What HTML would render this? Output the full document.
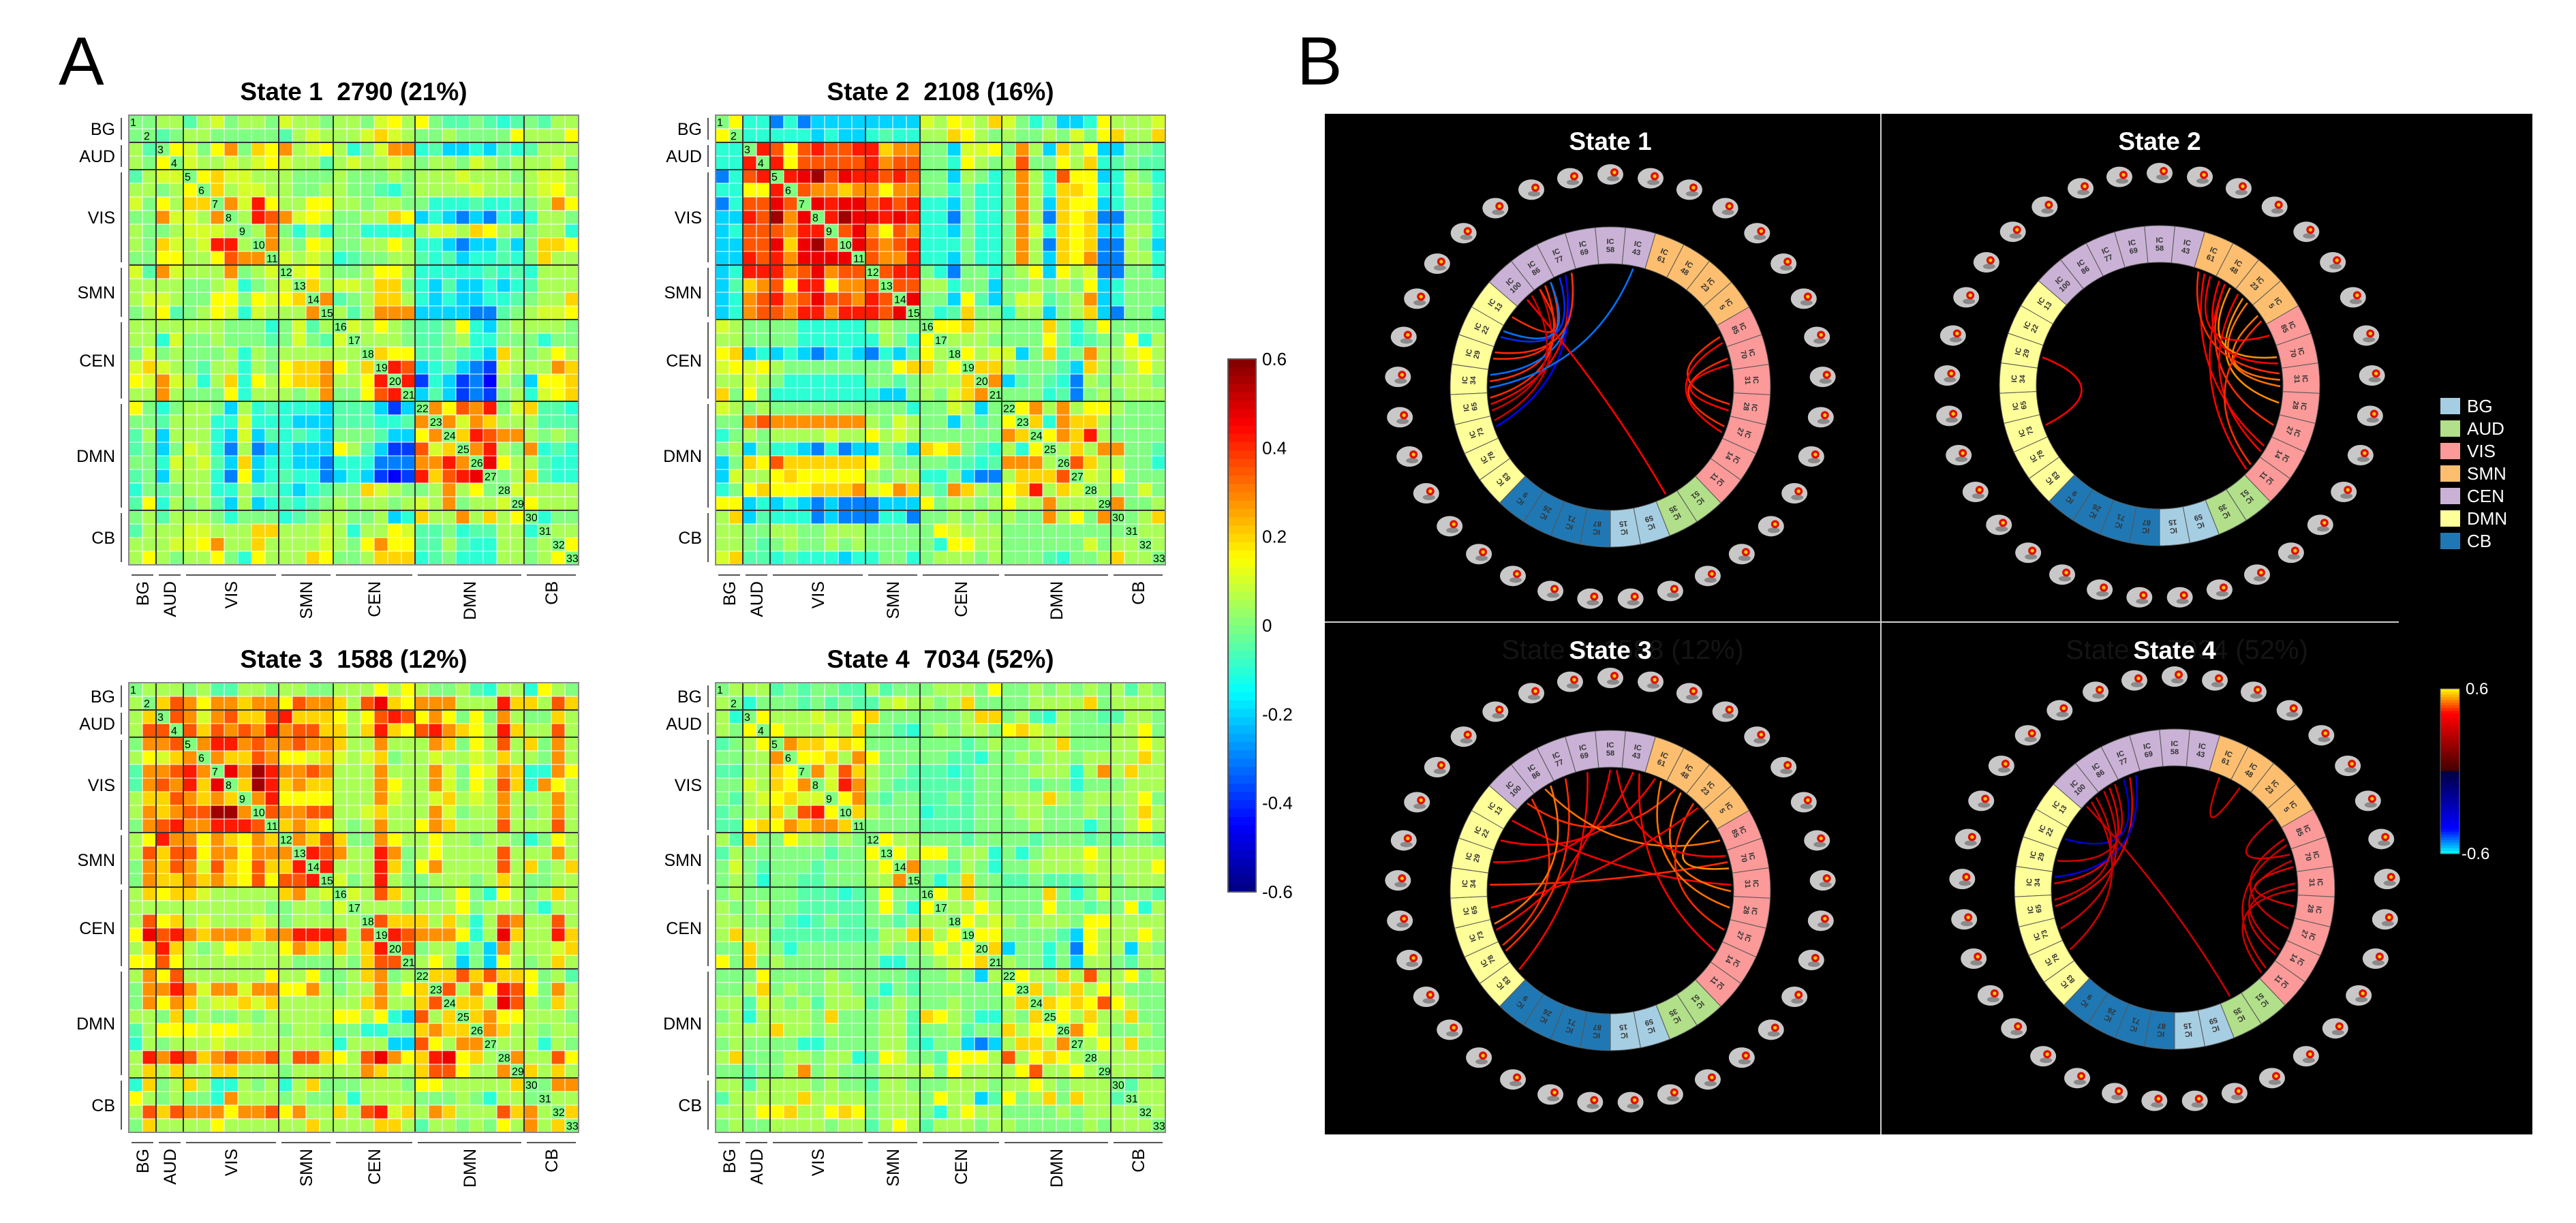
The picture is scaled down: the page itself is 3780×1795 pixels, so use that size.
<!DOCTYPE html>
<html><head><meta charset="utf-8">
<style>
html,body{margin:0;padding:0;background:#fff;}
svg{display:block;font-family:"Liberation Sans",Arial,sans-serif;}
.pre{white-space:pre;}
</style></head>
<body>
<svg id="fig" xmlns="http://www.w3.org/2000/svg" width="3780" height="1795" viewBox="0 0 3780 1795">
<rect x="0" y="0" width="3780" height="1795" fill="#fff"/>
<text x="86" y="124" font-size="100" fill="#000">A</text>
<text x="1903" y="124" font-size="100" fill="#000">B</text>
<rect x="1944" y="167" width="1772" height="1498" fill="#000"/>
<line x1="2760" y1="167" x2="2760" y2="1665" stroke="#cfcfcf" stroke-width="2"/>
<line x1="1944" y1="913" x2="3520" y2="913" stroke="#cfcfcf" stroke-width="2"/>
<g id="layer"></g>
</svg>
<script>
// ---------- DATA ----------
const groupNames = ["BG","AUD","VIS","SMN","CEN","DMN","CB"];
const groupSizes = [2,2,7,4,6,8,4];
const stateTitles = ["State 1  2790 (21%)","State 2  2108 (16%)","State 3  1588 (12%)","State 4  7034 (52%)"];
const chordTitles = ["State 1","State 2","State 3","State 4"];
const levelCodes = {A:-0.45,B:-0.38,C:-0.3,D:-0.2,E:-0.1,F:-0.05,G:0,H:0.05,I:0.1,J:0.15,K:0.2,L:0.28,M:0.35,N:0.42,O:0.47,P:0.56};
const colorbarTicks = [0.6,0.4,0.2,0,-0.2,-0.4,-0.6];
const colorbarTickLabels = ["0.6","0.4","0.2","0","-0.2","-0.4","-0.6"];
// upper triangle rows (row i: columns i+1..32)
const state1Upper = ["GHHFHIGHHGIHHGHHGIJHJGFFGFEFGFHH","FGHHGGGGGFHIHHHIKIHGGHGGGGJHHHJ","JIGJLGKJLHIJHEGILLEFDDEDFEFHHH","IHHIHIJIHHFHIHHIHGHHGIHGHHHIG","JKIIHHHGGGHGGGHGHHHIHHHGHIIH","KHIIHHGGHHGGFEGHHHHIHHHHIJH","LINJHHJJHHGHHGGEEEFEEFGHLJ","HNMLIJIGGHHKJDEDCDCEDEHHG","HLGEGEGGEEEEHIIHKJHHGHHE","LHGJIGGHHJHEEDCDDFDGKKJ","IHIHEFGGHHFEFDEEFEGKHH","IJHGGHJJHEEEEEFEFEHHH","KHIIHKKGEDFDDEDEFHHH","LFGHKKHEDEDDEEFGHHK","HFHLLLDDDDCCFGHIIJ","IHJHGFFGJEDGHHHHG","HHHGFFGHEEGGGEGG","KJJFFGFEDKHGHJH","NMDEFDCBIHHHLK","NBEDBCAHGDJJK","DFDBCBGHEIJK","LJMLNGIKFFE","LILKHHHFFF","KNMLLHGHG","LNHGLEFE","OJHHFEE","GHKFEE","IHHHH","JHHH","EGG","HH","J",""];
const state2Upper = ["JEECECDDDDDDDDIHJIHKIGEGDDEJHHHI","EEEEEDEDDEFEEHHKJHGHGGHGIGJKHHK","NMJMNMMNNKLLGGDIIJGLHDKHJDDGGF","NJMMMMMNLMMGGEJHGHMGGJHKEFGFF","NOPMONNMNMGGDHGEGLHEMJJDEHGE","MLLKLLJLLGGEGEEGLHEKKJEEHHF","ONOOMNMNEEDGEEGLHDKJJDEGGE","NPOONONEECGEEGLHCKJKCCGGE","MOLJMLEEDGEEGLIEKJKDDHHE","OMLMNEEEGEEGLHCKJKCCHGD","MLLNEEDGEEGLHDKJLCCHHE","MNNGECGGEGHJDJHICCGGE","MMHHEGGDGGHGHGJDEGGG","OGGDJFDGIIFGHLDEGGG","GEFKGGEHHDGHKDCGGE","JJKHHGGGKGEGJGGGG","HHHGGGGJGEFGGJEH","JHIIDGKFGLHHIJH","KKHGGGFDKHGHJH","LDFGFECHGHHHG","GGGEFCGHGHHH","JLHLHJJHGGG","KELKKHGGGG","JLKNHGGGG","HKHLLGGF","MKHHGGE","IHJGGG","HGGIG","LGGH","GHK","HH","H",""];
const state3Upper = ["HHHGHFFHHGHHGGHHHJHJHGGHFEHHEJHG","KMLJLLKLLJMLLKHMOKJLLLHHHNKKHMK","MLILMKKMNKKKJHJMNMJLJGJGLHGGKH","MKMLMLNLMMKKHKNKJMNLKJHNKHHMH","LNNLMLLMLLKHHLHHHLKGJHMHKGLH","LKKMLJJIKIHIKGHHIHHIHKHHGLH","OLPNLLMLHHHLHHHLIGJILKEELJ","KPNKLKKHHHLJHHLIGJHMKELJH","LNJJJJHHHLIHHIKHIHLHHHLH","MLLMMHHIKHHHLIGHHLHGHLH","KLKJHGHLHHJLKHHHMHHHMH","LKMKGGLJHHJHHGHHGEGJH","NMLHHNLGHJHHHHMHHHLH","NHHHNKGJLHHHHMHKGHK","IGHNHGGHHHGHKHGGHH","IHMKHGGHJGEJHGHKH","HHHGHHHJGHHHGEHH","MKKKHKHEHMLHHMH","NMLLLJEHOKHHNK","MGHHEGDLHHHIK","HJHDGDJHGHKH","KKMKMKKJGHF","MHLJNMJGLH","KKHOMHGKH","KLJJHHHG","LKHHGHH","HHHEHG","LHHMJ","KHKH","GLL","HH","K",""];
const state4Upper = ["HHHFGFGGFFHFGGGHHHGJGGHGHGHGHFHG","EGGGFGFGFFHIHHGHKGGGGHHHHKGHHHH","JHHHIHHJKGGGGGGHKKGHFEHGGFFHHG","JHHHIHKGGFEGHGHHGJKIHHGGGHHJG","LKKJKJGGGGGGGFGHGGHHKGGGHHJH","JJKHLJGGGGGFFEGGHGHHGHHHHKH","LIMKHGGFFFEFGGGGHHHEHLHKHH","INLHGFFFFFFGGGGFGGEGGGHHH","JLGFGGFFGFGGHHHKHGHHHHJG","KHGGGEFFFGGGHHGGGHGGHKH","GGGGFFFFGGGGHGGGEGGHJH","JHHGGGFGGGGFGGGFGFGGF","JHJJGHHEGEGHHHJHHHHH","LGGFHGEGGHHHHIHHHHJ","GEGKGGFFGFFFGHGHHH","JHKHGGGGKGEGIGGGF","HHJHGGGJGGFGGJEH","JHIHGHHHGJJHHHH","JJGGGGFDJHHHJH","KDGGEGCJHHDHG","HGGEGDHHGFHH","JHHKHMHHJGH","KGHKHJHGGG","KJKJMJHGG","JHKHHKGG","LJHGGHG","HJHKGG","HHHHH","HHHG","FHH","HH","H",""];
const allStates = [state1Upper,state2Upper,state3Upper,state4Upper];
// chord ring (order counter-clockwise from bottom)
const ringLabels = ["15","59","35","51","11","14","27","28","31","70","85","5","23","48","61","43","58","69","77","86","100","13","22","29","34","65","73","78","83","9","26","71","87"];
const ringGroups = ["BG","BG","AUD","AUD","VIS","VIS","VIS","VIS","VIS","VIS","VIS","SMN","SMN","SMN","SMN","CEN","CEN","CEN","CEN","CEN","CEN","DMN","DMN","DMN","DMN","DMN","DMN","DMN","DMN","CB","CB","CB","CB"];
const groupColors = {BG:"#a6cee3",AUD:"#b2df8a",VIS:"#fb9a99",SMN:"#fdbf6f",CEN:"#cab2d6",DMN:"#ffff99",CB:"#1f78b4"};
const legendOrder = ["BG","AUD","VIS","SMN","CEN","DMN","CB"];
// edges: [segmentA, segmentB, correlation]
const edges1 = [[24,19,0.45],[23,19,0.45],[25,18,0.42],[24,18,-0.5],[22,18,-0.45],[26,18,-0.4],[26,19,0.3],[25,19,0.45],[23,18,0.45],[22,19,-0.5],[24,15,-0.5],[20,2,0.42],[10,7,0.45],[9,6,0.45],[9,7,0.42],[10,6,0.42],[21,19,0.45],[25,20,0.3]];
const edges2 = [[14,5,0.42],[13,6,0.45],[12,7,0.52],[11,8,0.5],[10,14,0.42],[9,13,0.52],[8,12,0.5],[14,8,0.45],[13,9,0.42],[12,5,0.4],[11,4,0.45],[13,4,0.42],[23,26,0.42]];
const edges3 = [[21,8,0.42],[22,14,0.42],[24,9,0.45],[26,16,0.4],[27,18,0.45],[28,17,0.4],[23,15,0.4],[20,13,0.45],[19,10,0.5],[14,7,0.5],[13,8,0.5],[12,6,0.45],[11,9,0.52],[16,9,0.4],[15,5,0.4],[25,12,0.42],[20,27,0.45],[19,26,0.5]];
const edges4 = [[24,19,0.35],[23,19,0.3],[25,18,0.35],[24,18,-0.35],[22,18,-0.3],[26,19,0.3],[27,20,0.3],[25,20,0.3],[20,2,0.3],[10,6,0.3],[9,5,0.3],[9,7,0.35],[8,5,0.3],[10,4,0.3],[8,4,0.3],[14,13,0.3],[11,9,0.3]];
const allEdges = [edges1,edges2,edges3,edges4];

// ---------- LAYOUT ----------
const NS = "http://www.w3.org/2000/svg";
const layer = document.getElementById("layer");
const CELL = 20, N = 33;
const matrixOrigins = [[189,169],[1050,169],[189,1002],[1050,1002]];
const chordCenters = [[2363,568],[3169,566],[2363,1307],[3191,1305]];
const chordTitleY = [220,220,967,967];
const R_IN = 181, R_OUT = 235, R_THUMB = 312;

function mk(tag, parent){ const e = document.createElementNS(NS, tag); parent.appendChild(e); return e; }
function attrs(e, o){ for (const k in o) e.setAttribute(k, o[k]); return e; }
function jet(v){ const t = Math.max(0, Math.min(1, (v + 0.6) / 1.2)); const f = x => Math.round(255 * Math.max(0, Math.min(1, 1.5 - Math.abs(4 * t - x)))); return "rgb(" + f(3) + "," + f(2) + "," + f(1) + ")"; }
function hot(v){ const t = Math.min(1, Math.abs(v) / 0.6); const a = Math.round(255 * Math.min(1, 0.25 + t * 1.1)); const b = Math.round(255 * Math.max(0, (t - 0.7) / 0.3)); return v >= 0 ? "rgb(" + a + "," + b + ",0)" : "rgb(0," + b + "," + a + ")"; }
function cellValue(U, i, j){ if (i === j) return 0; const r = Math.min(i, j), c = Math.max(i, j); return levelCodes[U[r][c - r - 1]]; }
const xScale = (ox, j) => ox + j * CELL;
const yScale = (oy, i) => oy + i * CELL;

// ---------- MATRICES ----------
allStates.forEach((U, m) => {
  const [ox, oy] = matrixOrigins[m];
  const g = mk("g", layer);
  
  
  const title = mk("text", g);
  attrs(title, {x: ox + 330, y: oy - 22, "text-anchor": "middle", "font-size": 37, "font-weight": "bold", fill: "#000", "class": "pre"});
  
  
  title.textContent = stateTitles[m];
  for (let i = 0; i < N; i++) for (let j = 0; j < N; j++) {
    const r = mk("rect", g);
    attrs(r, {x: xScale(ox, j), y: yScale(oy, i), width: CELL, height: CELL, fill: jet(cellValue(U, i, j)), stroke: "#fff", "stroke-width": 1});
    
    
  }
  let acc = 0;
  groupSizes.forEach((s, gi) => {
    const a = acc, b = acc + s; acc = b;
    if (b < N) {
      const l1 = mk("line", g); attrs(l1, {x1: xScale(ox, b), y1: oy, x2: xScale(ox, b), y2: oy + N * CELL, stroke: "#333", "stroke-width": 2});
       
      const l2 = mk("line", g); attrs(l2, {x1: ox, y1: yScale(oy, b), x2: ox + N * CELL, y2: yScale(oy, b), stroke: "#333", "stroke-width": 2});
       
    }
    const lb = mk("line", g); attrs(lb, {x1: ox - 11, y1: yScale(oy, a) + 4, x2: ox - 11, y2: yScale(oy, b) - 4, stroke: "#555", "stroke-width": 2});
     
    const rl = mk("text", g); attrs(rl, {x: ox - 20, y: yScale(oy, (a + b) / 2) + 9, "text-anchor": "end", "font-size": 25, fill: "#000"});
     
    rl.textContent = groupNames[gi];
    const bb = mk("line", g); attrs(bb, {x1: xScale(ox, a) + 4, y1: oy + N * CELL + 15, x2: xScale(ox, b) - 4, y2: oy + N * CELL + 15, stroke: "#555", "stroke-width": 2});
     
    const cx = xScale(ox, (a + b) / 2) + 9, cy = oy + N * CELL + 24;
    const cl = mk("text", g); attrs(cl, {x: cx, y: cy, "text-anchor": "end", "font-size": 25, fill: "#000", transform: "rotate(-90 " + cx + " " + cy + ")"});
     
    cl.textContent = groupNames[gi];
  });
  const border = mk("rect", g); attrs(border, {x: ox, y: oy, width: N * CELL, height: N * CELL, fill: "none", stroke: "#888", "stroke-width": 2});
   
  for (let i = 0; i < N; i++) {
    const t = mk("text", g); attrs(t, {x: xScale(ox, i) + 2, y: yScale(oy, i) + 16, "font-size": 16, fill: "#000"});
     
    t.textContent = String(i + 1);
  }
});

// ---------- JET COLORBAR ----------
(function(){
  const x0 = 1802, y0 = 527, y1 = 1309, w = 41;
  const g = mk("g", layer);
   
  const vy = v => y0 + (0.6 - v) / 1.2 * (y1 - y0);
  const steps = 64;
  for (let k = 0; k < steps; k++) {
    const v = 0.6 - (k + 0.5) * 1.2 / steps;
    const r = mk("rect", g); attrs(r, {x: x0, y: y0 + k * (y1 - y0) / steps, width: w, height: (y1 - y0) / steps + 0.6, fill: jet(v)});
     
  }
  const b = mk("rect", g); attrs(b, {x: x0, y: y0, width: w, height: y1 - y0, fill: "none", stroke: "#555", "stroke-width": 2});
   
  colorbarTicks.forEach((v, k) => {
    const t = mk("text", g); attrs(t, {x: x0 + 50, y: vy(v) + 9, "font-size": 26, fill: "#000"});
     
    t.textContent = colorbarTickLabels[k];
  });
})();

// ---------- CHORD DIAGRAMS ----------
const W_DEG = 360 / N;
const segAngle = k => (90 - (k + 0.5) * W_DEG) * Math.PI / 180;
allEdges.forEach((E, s) => {
  const [cx, cy] = chordCenters[s];
  const g = mk("g", layer);
  
  
  if (s >= 2) {
    const ghost = mk("text", g); attrs(ghost, {x: cx + 18, y: chordTitleY[s], "text-anchor": "middle", "font-size": 40, fill: "#141414", "class": "pre"});
     
    ghost.textContent = stateTitles[s];
  }
  const tt = mk("text", g); attrs(tt, {x: cx, y: chordTitleY[s], "text-anchor": "middle", "font-size": 37, "font-weight": "bold", fill: "#fff"});
   
  tt.textContent = chordTitles[s];
  // ring segments
  for (let k = 0; k < N; k++) {
    const a1 = (90 - k * W_DEG) * Math.PI / 180, a2 = (90 - (k + 1) * W_DEG) * Math.PI / 180;
    const p = (r, a) => (cx + r * Math.cos(a)).toFixed(1) + "," + (cy + r * Math.sin(a)).toFixed(1);
    const d = "M" + p(R_OUT, a1) + " A" + R_OUT + "," + R_OUT + " 0 0 0 " + p(R_OUT, a2) + " L" + p(R_IN, a2) + " A" + R_IN + "," + R_IN + " 0 0 1 " + p(R_IN, a1) + " Z";
    const seg = mk("path", g); attrs(seg, {d: d, fill: groupColors[ringGroups[k]], stroke: "#555", "stroke-width": 1});
     
    const am = segAngle(k), rm = (R_IN + R_OUT) / 2;
    const lx = cx + rm * Math.cos(am), ly = cy + rm * Math.sin(am);
    const rot = am * 180 / Math.PI + 90;
    const lab = mk("text", g); attrs(lab, {x: lx, y: ly, "text-anchor": "middle", "font-size": 11, "font-weight": "bold", fill: "#333", transform: "rotate(" + rot.toFixed(1) + " " + lx.toFixed(1) + " " + ly.toFixed(1) + ")"});
     
    const s1 = mk("tspan", lab); attrs(s1, {x: lx, dy: -2}); s1.textContent = "IC";
    const s2 = mk("tspan", lab); attrs(s2, {x: lx, dy: 12}); s2.textContent = ringLabels[k];
    // brain thumbnail
    const tx = cx + R_THUMB * Math.cos(am), ty = cy + R_THUMB * Math.sin(am);
    const th = mk("g", g);
     
    const e1 = mk("ellipse", th); attrs(e1, {cx: tx, cy: ty, rx: 19, ry: 15, fill: "#c8c8c8"});
    const e2 = mk("ellipse", th); attrs(e2, {cx: tx + 4, cy: ty + 6, rx: 9, ry: 4, fill: "#8a8a8a"});
    const e3 = mk("circle", th); attrs(e3, {cx: tx + 6, cy: ty - 3, r: 6, fill: "#e01000"});
    const e4 = mk("circle", th); attrs(e4, {cx: tx + 6, cy: ty - 3, r: 2.6, fill: "#ffd000"});
  }
  // chords
  const used = {};
  E.forEach(([a, b, v]) => {
    const off = k => { used[k] = (used[k] || 0) + 1; return ((used[k] % 3) - 1) * W_DEG * 0.28 * Math.PI / 180; };
    const aa = segAngle(a) + off(a), ab = segAngle(b) + off(b);
    const r = R_IN - 4;
    const x1 = cx + r * Math.cos(aa), y1 = cy + r * Math.sin(aa);
    const x2 = cx + r * Math.cos(ab), y2 = cy + r * Math.sin(ab);
    const qx = cx + ((x1 + x2) / 2 - cx) * 0.35, qy = cy + ((y1 + y2) / 2 - cy) * 0.35;
    const pth = mk("path", g);
    attrs(pth, {d: "M" + x1.toFixed(1) + "," + y1.toFixed(1) + " Q" + qx.toFixed(1) + "," + qy.toFixed(1) + " " + x2.toFixed(1) + "," + y2.toFixed(1), fill: "none", stroke: hot(v), "stroke-width": 2.6});
     
  });
});

// ---------- LEGEND ----------
(function(){
  const g = mk("g", layer);
   
  legendOrder.forEach((name, k) => {
    const y = 596 + k * 33;
    const sw = mk("rect", g); attrs(sw, {x: 3581, y: y - 12, width: 29, height: 24, fill: groupColors[name]});
     
    const t = mk("text", g); attrs(t, {x: 3620, y: y + 9, "font-size": 26, fill: "#fff"});
     
    t.textContent = name;
  });
  // hot/cold colorbar
  const cb = mk("g", layer);
   
  const y0 = 1011, y1 = 1253, steps = 60;
  for (let k = 0; k < steps; k++) {
    const v = 0.6 - (k + 0.5) * 1.2 / steps;
    const r = mk("rect", cb); attrs(r, {x: 3581, y: y0 + k * (y1 - y0) / steps, width: 28, height: (y1 - y0) / steps + 0.6, fill: hot(v)});
     
  }
  const b = mk("rect", cb); attrs(b, {x: 3581, y: y0, width: 28, height: y1 - y0, fill: "none", stroke: "#666", "stroke-width": 1});
   
  const t1 = mk("text", cb); attrs(t1, {x: 3618, y: y0 + 8, "font-size": 24, fill: "#fff"});
   
  t1.textContent = "0.6";
  const t2 = mk("text", cb); attrs(t2, {x: 3612, y: y1 + 8, "font-size": 24, fill: "#fff"});
   
  t2.textContent = "-0.6";
})();
</script>
</body></html>
